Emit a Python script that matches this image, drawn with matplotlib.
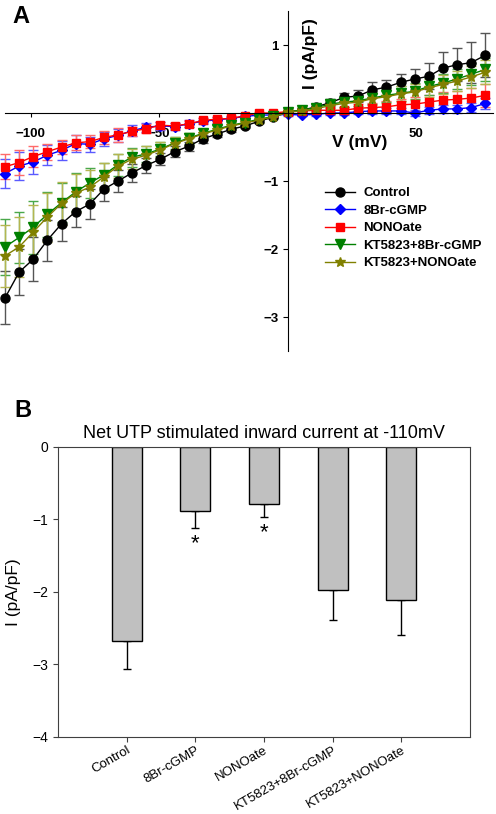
import matplotlib.pyplot as plt
from matplotlib.lines import Line2D

plt.rcParams['font.family'] = ['Liberation Sans', 'DejaVu Sans']

# Panel A: I-V curves (mV vs pA/pF)
V = [-110, -104.5, -99, -93.5, -88, -82.5, -77, -71.5, -66, -60.5, -55, -49.5,
     -44, -38.5, -33, -27.5, -22, -16.5, -11, -5.5, 0, 5.5, 11, 16.5, 22, 27.5,
     33, 38.5, 44, 49.5, 55, 60.5, 66, 71.5, 77]

control = [-2.72, -2.34, -2.15, -1.87, -1.63, -1.45, -1.34, -1.12, -1.00, -0.88,
           -0.77, -0.68, -0.57, -0.49, -0.38, -0.31, -0.24, -0.19, -0.12, -0.06,
           0.01, 0.04, 0.09, 0.15, 0.23, 0.25, 0.34, 0.38, 0.45, 0.50, 0.54,
           0.66, 0.71, 0.74, 0.85]
control_err = [0.39, 0.34, 0.32, 0.30, 0.25, 0.23, 0.22, 0.18, 0.16, 0.13, 0.11,
               0.09, 0.08, 0.07, 0.06, 0.05, 0.04, 0.03, 0.03, 0.02, 0.02, 0.03,
               0.04, 0.05, 0.06, 0.09, 0.11, 0.11, 0.13, 0.14, 0.19, 0.23, 0.24,
               0.30, 0.32]

br_cgmp = [-0.89, -0.78, -0.72, -0.62, -0.55, -0.45, -0.46, -0.38, -0.33, -0.26,
           -0.21, -0.19, -0.20, -0.16, -0.12, -0.10, -0.08, -0.05, -0.03, -0.03,
           -0.02, -0.03, -0.02, 0.00, 0.00, 0.02, 0.03, 0.03, 0.03, 0.00, 0.04,
           0.06, 0.06, 0.08, 0.14]
br_cgmp_err = [0.22, 0.20, 0.17, 0.15, 0.14, 0.12, 0.11, 0.10, 0.09, 0.08, 0.07,
               0.06, 0.05, 0.05, 0.04, 0.04, 0.03, 0.03, 0.02, 0.02, 0.02, 0.02,
               0.03, 0.03, 0.03, 0.04, 0.04, 0.04, 0.05, 0.05, 0.05, 0.06, 0.06,
               0.07, 0.08]

nonoate = [-0.79, -0.73, -0.64, -0.57, -0.50, -0.44, -0.42, -0.36, -0.32, -0.27,
           -0.23, -0.18, -0.19, -0.16, -0.11, -0.09, -0.08, -0.04, 0.00, 0.00,
           0.02, 0.03, 0.04, 0.04, 0.04, 0.07, 0.08, 0.09, 0.12, 0.13, 0.16,
           0.19, 0.20, 0.22, 0.26]
nonoate_err = [0.18, 0.18, 0.15, 0.12, 0.10, 0.11, 0.10, 0.10, 0.10, 0.07, 0.07,
               0.05, 0.05, 0.04, 0.04, 0.03, 0.03, 0.03, 0.02, 0.02, 0.03, 0.03,
               0.04, 0.05, 0.05, 0.06, 0.07, 0.08, 0.09, 0.10, 0.11, 0.12, 0.13,
               0.15, 0.17]

kt_br = [-1.97, -1.83, -1.68, -1.49, -1.32, -1.16, -1.03, -0.91, -0.76, -0.65,
         -0.60, -0.53, -0.44, -0.37, -0.30, -0.24, -0.18, -0.14, -0.09, -0.05,
         0.02, 0.04, 0.08, 0.13, 0.16, 0.18, 0.22, 0.26, 0.29, 0.32, 0.39,
         0.44, 0.50, 0.57, 0.64]
kt_br_err = [0.41, 0.38, 0.39, 0.33, 0.29, 0.28, 0.22, 0.18, 0.16, 0.14, 0.12,
             0.10, 0.09, 0.08, 0.07, 0.06, 0.05, 0.04, 0.04, 0.03, 0.03, 0.04,
             0.05, 0.06, 0.07, 0.08, 0.09, 0.10, 0.11, 0.12, 0.13, 0.14, 0.15,
             0.16, 0.17]

kt_nono = [-2.10, -1.97, -1.75, -1.53, -1.33, -1.18, -1.09, -0.94, -0.78, -0.68,
           -0.62, -0.54, -0.45, -0.38, -0.31, -0.25, -0.19, -0.15, -0.10, -0.06,
           0.01, 0.03, 0.06, 0.11, 0.14, 0.16, 0.21, 0.24, 0.28, 0.31, 0.37,
           0.42, 0.47, 0.53, 0.60]
kt_nono_err = [0.46, 0.44, 0.40, 0.36, 0.32, 0.28, 0.25, 0.21, 0.18, 0.15, 0.13,
               0.11, 0.10, 0.09, 0.08, 0.07, 0.06, 0.05, 0.04, 0.03, 0.03, 0.04,
               0.05, 0.06, 0.07, 0.08, 0.09, 0.10, 0.11, 0.12, 0.13, 0.14, 0.15,
               0.16, 0.18]

# Panel B: net current at -110 mV
groups = ['Control', '8Br-cGMP', 'NONOate', 'KT5823+8Br-cGMP', 'KT5823+NONOate']
net_current = [-2.68, -0.89, -0.79, -1.98, -2.12]
net_err = [0.39, 0.23, 0.18, 0.41, 0.48]
signif = [False, True, True, False, False]

fig = plt.figure(figsize=(4.96, 8.14), dpi=100)

# ---- panel A ----
axA = fig.add_axes([5/496, 1 - 351/814, 488/496, 340/814])
series = [
    ('Control', control, control_err, 'black', '#555555', 'o', 6.5),
    ('8Br-cGMP', br_cgmp, br_cgmp_err, '#0000ff', '#5a5aff', 'D', 5),
    ('NONOate', nonoate, nonoate_err, '#ff0000', '#ff6a6a', 's', 5.5),
    ('KT5823+8Br-cGMP', kt_br, kt_br_err, '#008000', '#4aa84a', 'v', 6.5),
    ('KT5823+NONOate', kt_nono, kt_nono_err, '#808000', '#b5b550', '*', 7.5),
]
handles = []
for name, y, e, c, ec, m, ms in series:
    axA.errorbar(V, y, yerr=e, color=c, ecolor=ec, marker=m, markersize=ms,
                 lw=1, elinewidth=1, capsize=3.5, capthick=1, clip_on=False)
    handles.append(Line2D([], [], color=c, marker=m, markersize=ms, lw=1,
                          label=name))

axA.set_xlim(-110, 80)
axA.set_ylim(-3.5, 1.5)
axA.spines['left'].set_position(('data', 0))
axA.spines['bottom'].set_position(('data', 0))
axA.spines['top'].set_visible(False)
axA.spines['right'].set_visible(False)
axA.set_xticks([-100, -50, 50])
axA.set_yticks([-3, -2, -1, 1])
axA.tick_params(axis='x', direction='out', length=3, pad=8, labelsize=9.5)
axA.tick_params(axis='y', direction='out', length=3.5, pad=3, labelsize=9.5)
for lab in axA.get_xticklabels() + axA.get_yticklabels():
    lab.set_fontweight('bold')
axA.patch.set_alpha(0)

fig.text(360/496, 1 - 143/814, 'V (mV)', ha='center', va='center',
         fontsize=12.5, fontweight='bold')
fig.text(311/496, 1 - 54/814, 'I (pA/pF)', ha='center', va='center',
         rotation=90, fontsize=12.5, fontweight='bold')

axA.legend(handles=handles, loc='upper left',
           bbox_to_anchor=(325/496, 1 - 187/814),
           bbox_transform=fig.transFigure, frameon=False, borderpad=0,
           borderaxespad=0, handlelength=2.3, handletextpad=0.6,
           labelspacing=0.4, prop={'weight': 'bold', 'size': 9.5})

fig.text(12/496, 1 - 5/814, 'A', ha='left', va='top', fontsize=17,
         fontweight='bold')

# ---- panel B ----
axB = fig.add_axes([58/496, 1 - 736.7/814, 412/496, 290/814])
x = list(range(1, len(groups) + 1))
axB.bar(x, net_current, width=0.44, color='#c0c0c0', edgecolor='black',
        linewidth=1, zorder=2)
axB.errorbar(x, net_current, yerr=[net_err, [0]*len(x)], fmt='none',
             ecolor='black', elinewidth=1, capsize=3, capthick=1, zorder=1)
for xi, v, e, s in zip(x, net_current, net_err, signif):
    if s:
        axB.text(xi, v - e - 0.07, '*', ha='center', va='top', fontsize=16)

axB.set_xlim(0, 6)
axB.set_ylim(-4, 0)
axB.set_yticks([0, -1, -2, -3, -4])
axB.set_xticks(x)
axB.set_xticklabels(groups, rotation=30, ha='right', rotation_mode='anchor',
                    fontsize=9.5)
axB.tick_params(axis='y', direction='out', length=3.5, labelsize=10,
                color='#404040')
axB.tick_params(axis='x', direction='out', length=3.5, pad=2,
                color='#404040')
for sp in axB.spines.values():
    sp.set_color('#404040')
axB.set_ylabel('I (pA/pF)', fontsize=12.5, labelpad=8)
axB.set_title('Net UTP stimulated inward current at -110mV', fontsize=13,
              pad=6)

fig.text(14/496, 1 - 399/814, 'B', ha='left', va='top', fontsize=17,
         fontweight='bold')

fig.savefig('out.png', dpi=100)
